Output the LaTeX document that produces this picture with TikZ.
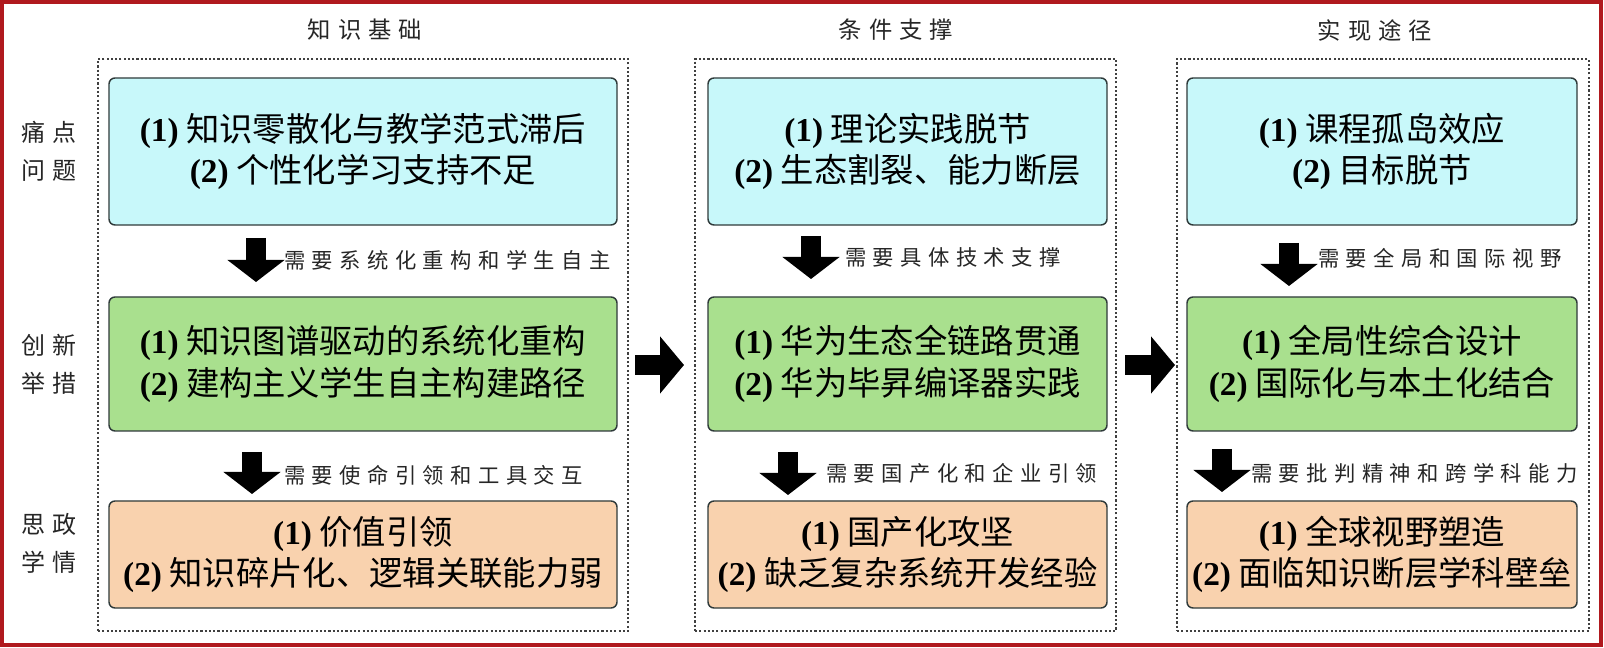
\documentclass[tikz,border=0pt]{standalone}
\usepackage{fontspec}
\setmainfont{Liberation Serif}
\newfontfamily\cjk{Noto Sans CJK SC}
\newfontfamily\kai[LetterSpace=30]{Noto Sans CJK SC}
\usetikzlibrary{arrows.meta}
\definecolor{cyanfill}{HTML}{C8F8FA}
\definecolor{greenfill}{HTML}{A9E08E}
\definecolor{orangefill}{HTML}{F9D2AE}
\definecolor{redline}{HTML}{B0191E}
\definecolor{boxline}{HTML}{2F3A3A}
\definecolor{dotgray}{HTML}{404040}
\newcommand\nlab[1]{{\rmfamily\bfseries(#1)}}
\begin{document}
\begin{tikzpicture}[x=0.75pt,y=-0.75pt,
  box/.style={draw=boxline, line width=1.1pt, rounded corners=4.5pt, align=center,
    inner sep=0pt, font=\fontsize{25}{31}\selectfont\cjk},
  cyanbox/.style={box, fill=cyanfill, minimum height=110.25pt},
  greenbox/.style={box, fill=greenfill, minimum height=100.5pt},
  orangebox/.style={box, fill=orangefill, minimum height=80.25pt},
  panel/.style={draw=dotgray, line width=1.6pt, dash pattern=on 1.6pt off 1.6pt,
    minimum height=429pt, inner sep=0pt},
  header/.style={font=\fontsize{17.5}{20}\selectfont\kai, text=black!85},
  rowlab/.style={font=\fontsize{18}{28.5}\selectfont\kai, align=center, text=black!85},
  needlab/.style={font=\fontsize{16}{18}\selectfont\kai, anchor=west, inner sep=0pt, text=black!85},
  downarrow/.style={line width=15pt, -{Triangle[width=42pt,length=16.5pt]}},
  rightarrow/.style={line width=15pt, -{Triangle[width=42pt,length=18pt]}}
]
\useasboundingbox (0,0) rectangle (1604,648);
\fill[white] (0,0) rectangle (1604,648);
\draw[redline, line width=2.6pt] (2,2) rectangle (1601,645);

% panels
\node[panel, minimum width=397.5pt] (p1) at (363,345) {};
\node[panel, minimum width=315.75pt] (p2) at (905.5,345) {};
\node[panel, minimum width=309pt] (p3) at (1383,345) {};

% headers
\node[header] (h1) at (365,30) {知识基础};
\node[header] (h2) at (896,30) {条件支撑};
\node[header] (h3) at (1375,31) {实现途径};

% row labels
\node[rowlab] (r1) at (49,151.5) {痛点\\问题};
\node[rowlab] (r2) at (49,364) {创新\\举措};
\node[rowlab] (r3) at (49,543) {思政\\学情};

% column 1
\node[cyanbox, minimum width=381pt] (c1) at (363,151.5)
  {\nlab{1} 知识零散化与教学范式滞后\\\nlab{2} 个性化学习支持不足};
\node[greenbox, minimum width=381pt] (g1) at (363,364)
  {\nlab{1} 知识图谱驱动的系统化重构\\\nlab{2} 建构主义学生自主构建路径};
\node[orangebox, minimum width=381pt] (o1) at (363,554.5)
  {\nlab{1} 价值引领\\\nlab{2} 知识碎片化、逻辑关联能力弱};

% column 2
\node[cyanbox, minimum width=299.25pt] (c2) at (907.5,151.5)
  {\nlab{1} 理论实践脱节\\\nlab{2} 生态割裂、能力断层};
\node[greenbox, minimum width=299.25pt] (g2) at (907.5,364)
  {\nlab{1} 华为生态全链路贯通\\\nlab{2} 华为毕昇编译器实践};
\node[orangebox, minimum width=299.25pt] (o2) at (907.5,554.5)
  {\nlab{1} 国产化攻坚\\\nlab{2} 缺乏复杂系统开发经验};

% column 3
\node[cyanbox, minimum width=292.5pt] (c3) at (1382,151.5)
  {\nlab{1} 课程孤岛效应\\\nlab{2} 目标脱节};
\node[greenbox, minimum width=292.5pt] (g3) at (1382,364)
  {\nlab{1} 全局性综合设计\\\nlab{2} 国际化与本土化结合};
\node[orangebox, minimum width=292.5pt] (o3) at (1382,554.5)
  {\nlab{1} 全球视野塑造\\\nlab{2} 面临知识断层学科壁垒};

% down arrows column 1
\coordinate (d1s) at (256,238); \coordinate (d1e) at (256,282);
\draw[downarrow] (d1s) -- (d1e);
\node[needlab] (n1) at (284,260) {需要系统化重构和学生自主};
\coordinate (d2s) at (252,452); \coordinate (d2e) at (252,494);
\draw[downarrow] (d2s) -- (d2e);
\node[needlab] (n2) at (284,475) {需要使命引领和工具交互};

% down arrows column 2
\coordinate (d3s) at (811,236); \coordinate (d3e) at (811,279);
\draw[downarrow] (d3s) -- (d3e);
\node[needlab] (n3) at (845,257) {需要具体技术支撑};
\coordinate (d4s) at (788,452); \coordinate (d4e) at (788,495);
\draw[downarrow] (d4s) -- (d4e);
\node[needlab] (n4) at (826,473) {需要国产化和企业引领};

% down arrows column 3
\coordinate (d5s) at (1289,243); \coordinate (d5e) at (1289,286);
\draw[downarrow] (d5s) -- (d5e);
\node[needlab] (n5) at (1318,258) {需要全局和国际视野};
\coordinate (d6s) at (1222,449); \coordinate (d6e) at (1222,492);
\draw[downarrow] (d6s) -- (d6e);
\node[needlab] (n6) at (1251,473) {需要批判精神和跨学科能力};

% horizontal arrows
\coordinate (ra1) at (635,365); \coordinate (rb1) at (684,365);
\draw[rightarrow] (ra1) -- (rb1);
\coordinate (ra2) at (1125,365); \coordinate (rb2) at (1175,365);
\draw[rightarrow] (ra2) -- (rb2);
\end{tikzpicture}
\end{document}
